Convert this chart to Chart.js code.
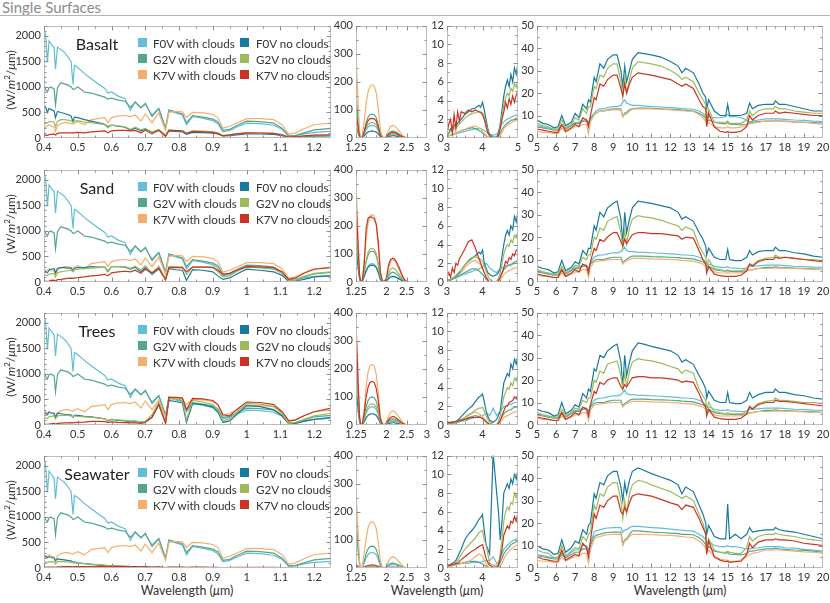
<!DOCTYPE html>
<html><head><meta charset="utf-8">
<script src="https://cdn.jsdelivr.net/npm/chart.js@4/dist/chart.umd.min.js"></script>
<style>
body{margin:0;width:830px;height:603px;position:relative;background:#fff;font-family:Lato,"Open Sans",sans-serif;overflow:hidden;color:#333}
.abs{position:absolute;white-space:nowrap}
.ylab{position:absolute;left:10px;transform:translate(-50%,-50%) rotate(-90deg);font-size:12px;white-space:nowrap}
.xlab{position:absolute;top:590px;transform:translate(-50%,-50%);font-size:12.5px;white-space:nowrap}
.name{position:absolute;transform:translate(-50%,-50%);font-size:16px;white-space:nowrap;color:#222}
.sq{position:absolute;width:9px;height:9px}
.lt{position:absolute;font-size:11.6px;transform:translateY(-50%);white-space:nowrap}
sup{font-size:8px;vertical-align:5px;line-height:0}
</style></head><body>
<div class="abs" style="left:2px;top:-2px;font-size:15px;color:#8c8c8c">Single Surfaces</div>
<div class="abs" style="left:0;top:15px;width:830px;height:1px;background:#b4b4b4"></div>
<div class="xlab" style="left:187px">Wavelength (<i>μ</i>m)</div>
<div class="xlab" style="left:437px">Wavelength (<i>μ</i>m)</div>
<div class="xlab" style="left:680px">Wavelength (<i>μ</i>m)</div>
<script>
// ---------- x grids ----------
const xVis = [0.400,0.405,0.410,0.415,0.420,0.430,0.434,0.440,0.450,0.460,0.470,0.480,0.486,0.490,0.500,0.520,0.540,0.560,0.580,0.589,0.600,0.620,0.640,0.656,0.670,0.687,0.700,0.720,0.740,0.760,0.770,0.790,0.810,0.822,0.840,0.870,0.900,0.915,0.930,0.950,0.970,1.000,1.040,1.080,1.105,1.125,1.145,1.170,1.200,1.250];
const xNir = [1.25,1.28,1.31,1.34,1.37,1.40,1.45,1.50,1.55,1.60,1.65,1.70,1.75,1.80,1.85,1.90,1.95,2.00,2.05,2.10,2.15,2.20,2.25,2.30,2.35,2.40,2.45,2.50,2.60,2.80,3.00];
const xMid = [3.00,3.05,3.10,3.15,3.20,3.25,3.30,3.35,3.40,3.50,3.60,3.70,3.80,3.90,3.95,4.00,4.05,4.10,4.15,4.20,4.30,4.40,4.45,4.50,4.55,4.60,4.65,4.70,4.75,4.80,4.85,4.90,4.95,5.00];
const xFar = [5.0,5.3,5.6,5.9,6.1,6.3,6.5,6.8,7.0,7.2,7.4,7.6,7.7,7.8,8.0,8.1,8.3,8.5,8.7,9.0,9.2,9.4,9.5,9.6,9.7,9.85,10.0,10.3,10.6,11.0,11.5,12.0,12.4,12.6,12.8,13.2,13.5,13.7,13.85,13.9,14.0,14.3,14.6,14.9,15.0,15.1,15.4,15.7,16.0,16.15,16.3,16.6,17.0,17.4,17.5,17.7,18.0,18.5,19.0,19.5,20.0];

// ---------- tick labels ----------
const visTicks = [0.4,0.5,0.6,0.7,0.8,0.9,1,1.1,1.2];
const nirTicks = [1.25,2,2.5,3];
const midTicks = [3,4,5];
const farTicks = [5,6,7,8,9,10,11,12,13,14,15,16,17,18,19,20];
const visYTicks = [0,500,1000,1500,2000];
const nirYTicks = [0,100,200,300,400];
const midYTicks = [0,2,4,6,8,10,12];
const farYTicks = [0,10,20,30,40,50];

const surfaces = ['Basalt','Sand','Trees','Seawater'];
const seriesNames = ['F0V with clouds','G2V with clouds','K7V with clouds','F0V no clouds','G2V no clouds','K7V no clouds'];

// ---------- 0.4-1.25 um ----------
const visF0Vcl = [2150,2000,1480,1900,1850,1760,1350,1780,1730,1680,1600,1500,1050,1420,1380,1260,1160,1060,970,880,900,820,770,540,710,600,660,450,580,200,540,490,450,260,420,390,340,280,120,150,210,290,280,250,170,30,40,80,110,130];
const visG2Vcl = [1050,950,900,980,1000,960,650,990,1080,1060,1040,1000,950,960,1000,900,880,840,800,760,780,740,720,600,700,590,680,420,570,180,550,510,470,300,440,410,370,320,150,170,240,330,320,290,190,40,50,100,160,190];
const visK7Vcl = [250,200,240,260,240,210,130,240,280,300,300,280,270,290,320,260,360,380,400,300,400,430,440,420,450,330,470,300,490,150,500,520,510,400,500,490,460,400,190,230,290,380,380,360,260,70,100,180,260,290];
const basaltVisF0V = [650,600,500,580,560,530,400,520,500,480,460,430,320,410,400,360,330,300,270,220,250,230,210,150,190,140,170,110,150,50,140,130,120,70,110,105,95,80,40,45,60,80,78,72,45,10,15,25,35,40];
const basaltVisG2V = [330,300,300,320,320,310,220,330,360,360,350,340,300,330,340,310,300,280,260,200,250,240,220,170,210,160,190,120,170,60,160,150,140,90,140,135,120,95,50,60,80,100,98,92,60,15,20,35,45,50];
const basaltVisK7V = [60,50,50,65,70,80,60,90,100,100,100,100,95,105,110,100,120,130,140,100,140,150,150,140,150,100,150,80,150,30,150,145,140,90,130,120,110,90,40,60,80,100,98,92,60,20,25,40,55,60];
const sandVisF0V = [230,200,180,230,250,260,180,270,280,280,270,270,220,270,280,280,300,290,290,200,300,300,290,250,290,200,280,150,260,50,260,240,230,30,240,230,200,120,50,80,150,250,230,200,130,10,20,50,100,120];
const sandVisG2V = [150,130,130,150,160,170,100,180,200,210,220,230,200,240,250,260,270,280,290,220,300,300,300,270,310,230,320,180,310,60,300,300,290,150,290,290,280,200,100,120,200,300,280,260,180,30,50,110,170,200];
const sandVisK7V = [20,15,15,20,30,35,20,45,50,60,70,75,70,80,85,100,120,130,150,120,180,200,210,200,230,170,250,180,270,40,280,280,280,200,290,290,290,230,150,170,230,300,295,280,200,50,80,170,250,280];
const treesVisF0V = [270,240,200,250,240,230,150,230,220,210,200,200,150,190,190,170,160,140,120,80,110,90,80,60,70,50,60,150,400,50,480,460,430,50,420,400,350,250,50,80,200,380,360,300,180,20,30,70,110,150];
const treesVisG2V = [150,130,130,160,170,180,120,180,190,190,190,180,160,180,170,160,150,140,120,90,110,100,90,80,80,60,70,200,450,60,520,510,490,100,480,450,400,300,80,120,250,420,410,360,220,30,50,110,180,230];
const treesVisK7V = [20,15,15,20,25,30,20,30,35,40,40,45,40,45,50,55,70,70,65,50,60,50,45,40,40,30,50,150,400,30,540,540,530,300,520,510,480,400,200,180,300,450,440,400,260,80,100,180,260,330];
const seaVisF0V = [250,230,200,220,210,190,140,180,170,160,150,140,110,120,100,85,70,60,45,35,35,30,25,18,20,15,15,10,12,5,10,9,8,5,7,6,5,4,2,3,4,5,5,4,3,1,1,2,3,3];
const seaVisG2V = [130,115,110,120,125,120,80,125,130,125,120,110,100,105,95,85,75,65,55,45,45,38,32,25,26,20,20,14,16,7,14,13,12,8,10,9,8,6,3,4,6,8,7,7,4,1,2,3,4,5];
const seaVisK7V = [20,18,18,20,20,20,15,22,24,25,25,25,24,25,26,26,28,30,30,25,30,30,30,28,28,22,25,18,22,8,20,20,18,12,18,16,15,12,5,8,11,14,14,13,9,3,4,7,9,10];

// ---------- 1.25-3 um ----------
const basaltNirF0Vcl = [130,90,45,10,0,0,14,29,40,44,45,44,38,25,7,1,0,2,7,11,12,11,10,7,5,2,1,0,0,0,0];
const basaltNirG2Vcl = [150,105,52,12,0,0,25,55,75,83,85,83,72,47,13,2,1,4,15,22,25,24,20,15,10,5,2,1,0,0,0];
const basaltNirK7Vcl = [290,200,100,20,0,0,55,125,165,185,190,185,160,105,30,4,2,7,27,40,45,43,36,27,18,9,4,1,0,0,0];
const basaltNirF0V = [40,28,14,3,0,0,8,16,22,24,25,24,21,14,4,1,0,1,5,7,8,8,6,5,3,2,1,0,0,0,0];
const basaltNirG2V = [50,35,18,4,0,0,17,36,48,54,55,53,47,30,8,1,0,2,9,13,15,14,12,9,6,3,1,0,0,0,0];
const basaltNirK7V = [85,60,30,7,0,0,21,45,62,69,70,68,60,38,10,1,0,3,12,18,20,19,16,12,8,4,2,0,0,0,0];
const sandNirF0Vcl = [130,90,45,10,0,0,20,42,57,64,65,63,55,36,10,1,0,3,12,18,20,19,16,12,8,4,2,0,0,0,0];
const sandNirG2Vcl = [200,140,70,15,0,0,33,72,97,108,110,107,94,60,17,2,1,5,21,31,35,33,28,21,14,7,3,1,0,0,0];
const sandNirK7Vcl = [360,250,125,25,0,0,70,155,210,235,240,235,205,130,36,5,2,12,48,72,80,76,64,48,32,16,6,2,0,0,0];
const sandNirF0V = [120,85,42,10,0,0,18,39,53,59,60,58,51,33,9,1,0,3,12,18,20,19,16,12,8,4,2,0,0,0,0];
const sandNirG2V = [200,140,70,15,0,0,36,78,106,118,120,116,102,66,18,2,1,7,30,45,50,48,40,30,20,10,4,1,0,0,0];
const sandNirK7V = [280,200,100,20,0,0,60,190,228,232,230,225,205,140,35,4,2,13,60,80,85,82,70,55,38,20,8,2,0,0,0];
const treesNirF0Vcl = [160,112,56,12,0,0,16,42,57,64,65,63,55,35,9,1,0,2,8,13,14,13,11,8,6,3,1,0,0,0,0];
const treesNirG2Vcl = [250,175,88,18,0,0,25,65,88,98,100,97,84,54,14,2,1,3,13,20,22,21,18,13,9,4,2,0,0,0,0];
const treesNirK7Vcl = [380,265,130,25,0,0,50,140,190,212,215,210,180,115,30,4,2,7,30,45,50,48,40,30,20,10,4,1,0,0,0];
const treesNirF0V = [130,90,45,10,0,0,10,26,35,39,40,39,34,22,6,1,0,1,5,7,8,8,6,5,3,2,1,0,0,0,0];
const treesNirG2V = [230,160,80,17,0,0,19,49,66,74,75,73,63,41,11,1,0,3,11,16,18,17,14,11,7,4,1,0,0,0,0];
const treesNirK7V = [340,238,119,24,0,0,39,101,136,152,155,151,130,84,22,3,1,5,18,27,30,29,24,18,12,6,2,1,0,0,0];
const seaNirF0Vcl = [130,91,46,10,0,0,17,36,48,54,55,53,47,30,8,1,0,2,8,12,13,12,10,8,5,3,1,0,0,0,0];
const seaNirG2Vcl = [180,126,63,13,0,0,23,51,69,76,78,76,66,43,12,2,1,3,11,16,18,17,14,11,7,4,1,0,0,0,0];
const seaNirK7Vcl = [270,190,95,19,0,0,50,107,145,162,165,160,140,90,25,3,1,6,24,36,40,38,32,24,16,8,3,1,0,0,0];
const seaNirF0V = [3,2,1,0,0,0,1,2,3,3,3,3,3,2,1,0,0,0,0,1,1,1,1,0,0,0,0,0,0,0,0];
const seaNirG2V = [5,3,2,0,0,0,2,3,4,5,5,5,4,3,1,0,0,0,1,1,1,1,1,1,0,0,0,0,0,0,0];
const seaNirK7V = [12,8,4,1,0,0,3,7,9,10,10,10,9,6,2,0,0,0,2,3,3,3,2,2,1,1,0,0,0,0,0];

// ---------- 3-5 um ----------
const basaltMidF0Vcl = [0.1,0.2,0.3,0.3,0.4,0.4,0.5,0.6,0.6,0.7,0.8,0.9,1.0,1.0,1.0,0.9,0.8,0.7,0.5,0.4,0.3,0.4,0.7,1.2,1.5,1.7,1.9,2.0,2.1,2.2,2.3,2.4,2.4,2.6];
const basaltMidG2Vcl = [0.1,0.2,0.3,0.4,0.5,0.5,0.6,0.7,0.8,0.9,1.0,1.1,1.0,0.8,0.7,0.5,0.4,0.2,0.1,0.0,0.0,0.0,0.2,0.5,0.9,1.2,1.4,1.6,1.7,1.9,1.9,2.0,2.1,2.2];
const basaltMidK7Vcl = [0.1,0.2,0.3,0.4,0.5,0.5,0.6,0.7,0.8,0.9,1.1,1.2,1.3,1.1,1.0,0.7,0.5,0.3,0.1,0.0,0.0,0.0,0.1,0.3,0.6,1.0,1.2,1.4,1.5,1.6,1.7,1.8,1.9,2.0];
const basaltMidF0V = [0.3,0.5,1.0,0.8,1.4,1.2,1.6,1.8,2.0,2.5,2.8,3.1,3.2,3.5,3.3,3.8,3.0,2.0,1.0,0.4,0.1,0.1,0.5,1.5,3.0,4.5,5.5,6.2,5.5,6.8,6.0,7.5,6.8,8.0];
const basaltMidG2V = [0.2,0.4,0.8,0.7,1.1,1.0,1.3,1.5,1.7,2.1,2.4,2.6,2.7,2.8,2.8,2.7,2.3,1.5,0.8,0.3,0.05,0.05,0.4,1.2,2.4,3.5,4.3,4.8,4.5,5.3,5.0,5.8,5.4,6.3];
const basaltMidK7V = [0.5,1.5,2.0,0.5,2.5,1.0,2.8,1.8,2.8,2.6,3.0,2.8,3.0,2.8,2.7,2.5,2.0,1.2,0.6,0.2,0.0,0.0,0.3,1.0,2.0,2.8,3.8,3.2,4.2,3.6,4.5,3.8,4.6,5.0];
const sandMidF0Vcl = [0.1,0.1,0.2,0.3,0.4,0.4,0.5,0.6,0.7,0.8,1.0,1.1,1.3,1.4,1.5,1.6,1.8,2.0,1.8,1.5,1.2,1.0,1.2,1.4,1.5,1.6,1.7,1.8,1.8,1.9,1.9,2.0,2.0,2.0];
const sandMidG2Vcl = [0.1,0.1,0.2,0.3,0.4,0.5,0.6,0.7,0.8,1.0,1.2,1.4,1.4,1.2,1.0,0.8,0.6,0.3,0.1,0.0,0.0,0.0,0.2,0.5,0.9,1.3,1.5,1.7,1.8,1.8,2.0,2.1,2.2,2.3];
const sandMidK7Vcl = [0.1,0.2,0.3,0.4,0.5,0.6,0.7,0.9,1.0,1.5,1.9,2.2,2.3,2.0,1.8,1.5,1.0,0.6,0.3,0.0,0.0,0.0,0.1,0.2,0.5,0.8,1.0,1.1,1.2,1.3,1.4,1.5,1.5,1.6];
const sandMidF0V = [0.1,0.2,0.3,0.4,0.5,0.6,0.8,1.0,1.3,1.8,2.2,2.5,2.8,3.2,3.0,3.4,2.0,1.5,1.0,0.8,0.6,0.8,1.0,1.5,2.8,4.0,5.0,5.5,5.0,6.0,5.6,7.0,6.4,7.5];
const sandMidG2V = [0.1,0.2,0.3,0.4,0.5,0.7,0.9,1.1,1.3,1.8,2.3,2.6,2.7,2.5,2.4,2.2,1.7,1.2,0.7,0.3,0.05,0.05,0.4,1.0,2.0,3.0,3.6,4.0,3.8,4.5,4.2,5.0,4.7,5.5];
const sandMidK7V = [0.5,1.0,0.5,1.5,1.0,2.0,1.8,2.5,2.8,3.5,4.3,4.5,3.6,2.5,2.0,1.5,1.0,0.5,0.2,0.0,0.0,0.0,0.2,0.5,1.0,1.5,2.2,2.0,2.6,2.4,3.0,2.8,3.4,3.5];
const treesMidF0Vcl = [0.1,0.1,0.1,0.2,0.2,0.2,0.3,0.3,0.4,0.4,0.6,0.7,0.8,0.9,1.0,1.0,1.1,1.2,1.2,1.0,1.8,1.0,1.2,1.5,1.7,2.0,2.0,2.1,2.2,2.2,2.3,2.4,2.4,2.5];
const treesMidG2Vcl = [0.1,0.1,0.1,0.2,0.2,0.3,0.3,0.4,0.5,0.6,0.8,0.9,1.0,0.9,0.8,0.7,0.5,0.3,0.1,0.0,0.0,0.0,0.2,0.5,0.9,1.2,1.4,1.5,1.6,1.6,1.8,1.9,1.9,2.0];
const treesMidK7Vcl = [0.1,0.1,0.2,0.2,0.3,0.3,0.4,0.5,0.5,0.7,1.0,1.2,1.4,1.2,1.1,0.9,0.6,0.3,0.1,0.0,0.0,0.0,0.1,0.3,0.5,0.8,0.9,1.0,1.1,1.2,1.3,1.4,1.4,1.5];
const treesMidF0V = [0.2,0.2,0.3,0.3,0.3,0.4,0.5,0.7,0.9,1.3,1.7,2.0,2.5,3.0,3.1,3.3,2.5,1.5,0.9,0.5,0.3,0.6,1.0,1.5,3.0,4.5,5.0,5.5,5.2,6.5,6.0,7.0,6.5,7.5];
const treesMidG2V = [0.1,0.1,0.2,0.2,0.3,0.3,0.4,0.5,0.6,0.8,1.1,1.3,1.6,1.8,1.8,1.9,1.5,1.0,0.6,0.3,0.05,0.05,0.4,1.0,2.0,3.0,3.5,4.0,3.8,4.5,4.2,5.0,4.7,5.5];
const treesMidK7V = [0.2,0.3,0.2,0.3,0.3,0.4,0.4,0.5,0.5,0.6,0.7,0.8,0.8,0.8,0.8,0.7,0.6,0.4,0.2,0.1,0.0,0.0,0.2,0.5,1.0,1.5,2.0,2.0,2.4,2.5,2.6,3.0,2.8,3.3];
const seaMidF0Vcl = [0.1,0.2,0.2,0.3,0.3,0.4,0.4,0.4,0.5,0.5,0.5,0.6,0.6,0.6,0.6,0.7,0.7,0.8,0.8,0.8,1.2,0.5,0.6,1.0,1.5,2.0,2.2,2.4,2.6,2.8,2.9,3.0,3.1,3.2];
const seaMidG2Vcl = [0.1,0.2,0.2,0.3,0.3,0.4,0.4,0.5,0.5,0.6,0.7,0.7,0.7,0.6,0.5,0.4,0.3,0.2,0.1,0.0,0.0,0.0,0.2,0.6,1.0,1.5,1.8,2.0,2.2,2.5,2.6,2.7,2.8,3.0];
const seaMidK7Vcl = [0.1,0.1,0.2,0.2,0.3,0.3,0.4,0.4,0.5,0.5,0.7,0.9,1.2,1.5,1.4,1.2,0.8,0.5,0.2,0.0,0.0,0.0,0.1,0.2,0.5,1.0,1.3,1.6,1.8,2.0,2.1,2.3,2.4,2.5];
const seaMidF0V = [0.2,0.3,0.4,0.5,0.6,0.8,1.2,1.6,2.0,3.0,3.6,4.0,4.5,5.2,5.4,5.7,4.0,2.5,2.0,1.5,12.2,8.0,6.0,3.0,5.0,8.0,8.5,9.0,8.5,9.5,9.0,10.0,9.5,10.5];
const seaMidG2V = [0.1,0.2,0.3,0.3,0.4,0.6,0.8,1.1,1.4,2.0,2.4,2.8,3.2,3.8,3.9,4.0,3.0,2.5,1.5,0.5,0.3,0.3,0.5,1.5,3.0,5.0,6.0,6.5,6.2,7.0,6.8,8.0,7.5,8.5];
const seaMidK7V = [0.2,0.3,0.3,0.4,0.4,0.5,0.5,0.7,0.9,1.2,1.5,1.8,2.0,2.3,2.4,2.5,1.8,1.0,0.6,0.3,0.1,0.1,0.3,1.0,2.0,3.5,4.0,4.5,4.2,5.0,4.8,5.5,5.0,6.0];

// ---------- 5-20 um ----------
const basaltFarF0Vcl = [5.5,5,4.5,4,4,6,4.5,6,7,7,8,8,7,9,11,12,13,13,13.5,14,14,14.5,16,17,15.5,15,14.5,14.5,14.3,14,13.8,13.5,13.3,13,13,12.8,12,11,10,9,9.5,9,9,9.5,10.5,9.5,9.5,9,8,7,7.5,8,8.5,8.5,8.5,8.5,8.3,8,7.8,7.5,7.3];
const basaltFarG2Vcl = [5,4.5,4,3.5,3.5,5.5,4,5.5,6.5,6.5,7.5,7.5,6,8.5,10.5,11,12,12,12.5,13,13,13,9.5,11,11.5,12.5,13,13.3,13.3,13.2,13,12.8,12.6,12.4,12.3,12,11,10,9,7,8,7,6.5,6.3,7,6.2,6,5.8,6,7,7,7.3,7.5,7.5,7.8,7.5,7.5,7.2,7,6.8,6.6];
const basaltFarK7Vcl = [3,2.5,2.5,2,2,4.5,2.5,4,5,5,6,6,2,7,10.5,11,12,12,12.3,12.5,12.6,12.5,9.5,10.5,10.5,12,12.8,13,13,13,12.8,12.5,12.3,12.2,12,11.8,10.5,9,7.5,6,7,5,4.5,4.5,5,4.5,4.5,4.8,5.5,6.5,6.5,7,7.5,7.5,7.7,7.5,7.4,7.2,7,6.5,6.2];
const basaltFarF0V = [8,6.5,6,4.5,5,10,5.5,7,11,9,15,13,17,16,27,25,33,31,35,37,37,30,23,32,25,30,35,38,37.5,37,36,34,32,29,31,29,24,20,18,13,17,12,10,10,15,10,10,10,11,15.5,13,14.5,15,15,16.5,15,15,14,13,12,12];
const basaltFarG2V = [6.5,5.5,5,3.5,4,8,4.5,6,9,8,13,11,14,14,23,22,28,27,31,33,33,25,18,27,20,26,31,34,33.5,33,32,30,28,26,27,25,20,17,15,8,13,7,7,7,7.5,6.5,6.5,6.5,8,12,10,12,13,13,14,13,13,12,11.5,11,11];
const basaltFarK7V = [4,3.5,3,2.5,2.5,6,3,4.5,6,5,9,8,5,10,18,17,24,23,26,28,28,22,19,24,20,24,27,29,28.5,28,27,26,24,23,24,22,17,14,13,5,11,5,3,2.5,2.8,2.5,2.5,3,5,10,8,10,11,11,12,11,11.5,11,10.5,10,10];
const sandFarF0Vcl = [5,4.5,4,3.5,3.5,5.5,4,5.5,6.5,6.5,7.5,7.5,6,8.5,11,11.5,12,12,12.5,13,13,13.5,14.5,15.5,14,13.5,13.5,13.3,13.2,13,12.8,12.5,12.3,12,12,11.8,11,10,9,7.5,8,7,6.5,6.5,6.8,6.3,6.2,6,6.2,7,7,7.2,7.5,7.5,7.5,7.5,7.3,7,6.8,6.6,6.5];
const sandFarG2Vcl = [4.5,4,3.5,3,3,5,3.5,5,6,6,7,7,5.5,8,9.5,10,10,10,10.5,11,11,11,8.5,9.5,10,11,11.5,11.5,11.5,11.3,11.2,11,10.8,10.6,10.5,10.3,9.5,9,8,6.5,7,5.5,5,4.8,5,4.7,4.6,4.6,5,5.5,5.5,6,6.5,6.5,6.7,6.5,6.4,6.2,6,5.8,5.6];
const sandFarK7Vcl = [3,2.5,2.5,2,2,4,2.5,3.5,4.5,4.5,5.5,5.5,2,6.5,9,9,9.5,9.5,9.8,10,10,10,8,9,9.5,10,10.5,10.5,10.5,10.3,10.2,10,9.8,9.6,9.5,9.3,8.5,8,7,5.5,6,4.5,4,4,4.2,4,4,4.2,4.8,5.5,5.5,6,6,6.2,6.3,6.2,6.2,6,5.8,5.6,5.5];
const sandFarF0V = [7,6,5.5,4,4.5,9.5,5,6.5,9,8,14,12,15,15,25,23,31,29,33,35,36,28,17,31,22,28,33,36,35.5,35,34,33,31,28,29,27,22,19,16,12,15,11,10,10,14.5,10,9.5,9.5,11,14,12,13.5,14,14,15.5,14,14,13,12.5,11.5,11];
const sandFarG2V = [5.5,4.5,4,3,3.5,7,4,5.5,7.5,7,11,10,12,12,20,19,24,23,27,28.5,29,22,15,23,17,24,28,29.5,29,28.5,27.5,26,25,23,24.5,23,16,13,11,7,10,6,5.5,5,5.5,5,5,5,6,8,7.5,9.5,10.5,11,12,11,11,10.5,10,10,9.5];
const sandFarK7V = [3.5,3,2.5,2,2,5.5,2.5,4,5.5,4.5,8,7,4,9,15,14,19,18,20,22,22,18,16,19,17,19,21,22,22,21.5,21.5,21,20.5,19,20,19.5,14,10,8,4,7,3.5,2.8,2.5,2.5,2.5,2.5,3,5,8,7,9,10,10,11,10.5,11,10.5,10,9.5,9];
const treesFarF0Vcl = [5,4.5,4,3.5,3.5,5.5,4,5.5,6.5,6.5,7.5,7.5,6,8.5,11,11.5,12,12,12.5,13,13,13.5,14.5,15.5,14,13.5,13.5,13.3,13.2,13,12.8,12.5,12.3,12,12,11.8,11,10,9,7.5,8,7,6.5,6.5,6.8,6.3,6.2,6,6.2,7,7,7.2,7.5,7.5,7.5,7.5,7.3,7,6.8,6.6,6.5];
const treesFarG2Vcl = [4.5,4,3.5,3,3,5,3.5,5,6,6,7,7,5.5,8,9.5,10,10,10,10.5,11,11,11,8.5,9.5,10,11,11.5,11.5,11.5,11.3,11.2,11,10.8,10.6,10.5,10.3,9.5,9,8,6.5,7,5.5,5,4.8,5,4.7,4.6,4.6,5,5.5,5.5,6,6.5,6.5,6.7,6.5,6.4,6.2,6,5.8,5.6];
const treesFarK7Vcl = [3,2.5,2.5,2,2,4,2.5,3.5,4.5,4.5,5.5,5.5,2,6.5,9,9,9.5,9.5,9.8,10,10,10,8,9,9.5,10,10.5,10.5,10.5,10.3,10.2,10,9.8,9.6,9.5,9.3,8.5,8,7,5.5,6,4.5,4,4,4.2,4,4,4.2,4.8,5.5,5.5,6,6,6.2,6.3,6.2,6.2,6,5.8,5.6,5.5];
const treesFarF0V = [7,6,5.5,4,4.5,10,5,6.5,9,8,14,12,16,15,25,24,31,30,33,35,36,28,17,31,22,28,33,36.5,36,35,34,33,31,28,29,27,22,19,16,12,15,11,10,10,14.5,10,9.5,9.5,11,14.5,12,13.5,14.5,14.5,16,14.5,14.5,13.5,13,12,11.5];
const treesFarG2V = [5.5,4.5,4,3,3.5,7,4,5.5,7.5,7,11,10,12,12,20,19,24,23,27,28,28.5,22,16,23,17,24,28,29.5,29,28.5,27.5,26,25,23,24.5,23,16,13,11,7,10,6,5.5,5,5.5,5,5,5,6,8.5,7.5,9.5,10.5,11,12,11,11,10.5,10,10,9.5];
const treesFarK7V = [3.5,3,2.5,2,2,5.5,2.5,4,5.5,4.5,8,7,4,9,15,14,19,18,20,21,21,17,16,18,17,19,21,21.5,21.5,21,21,20.5,20,19,19.5,19,14,10,8,4,7,3.5,2.8,2.5,2.5,2.5,2.5,3,5,8,7,9,10,10,11,10.5,10.5,10,9.5,9,8.5];
const seaFarF0Vcl = [6,5.5,5,4.5,4.5,7,5,7,8,8,10,10,8,11,16,16.5,17,17.5,17.8,18,18,18,16,17,17,18,18.5,18.5,18.3,18,17.7,17.3,17,16.8,16.6,16.4,15,14,12.5,11,12,10,9.5,9.5,10,9.5,9.5,9,8.5,8.5,8.8,9,9.5,9.5,9.5,9.5,9,8.8,8.3,8,7.5];
const seaFarG2Vcl = [5.5,5,4.5,4,4,6,4.5,6,7,7,8.5,8.5,6.5,10,14,14.5,15,15.5,15.8,16,16,16,11,12.5,13,15,16.5,16.5,16.3,16,15.8,15.5,15.3,15,15,14.8,13.5,12,10.5,8,9.5,7.5,7,6.5,7,6.2,6,5.8,6.5,7.5,7.5,8,8.5,8.5,8.8,8.5,8.3,8,7.8,7.5,7];
const seaFarK7Vcl = [3.5,3,3,2.5,2.5,5,3,4.5,5,5,6.5,6.5,2,8,13,13.5,14,14.5,14.8,15,15,15,10,12,12.5,14,15,15,15,14.8,14.6,14.5,14.2,14,13.8,13.5,12,10.5,9,7,8,5,4,3.5,3.5,3,3,3.5,5,6,6.5,7,8,8,8,8,7.8,7.5,7.2,7,6.5];
const seaFarF0V = [10,8.5,8,6,6.5,12.5,7,9,12,11,17,15,19,20,33,31,38,37,41,43,43,36,30,38,33,39,43,44.5,43.5,42,40.5,39,37,33,36,34,28,24,20,15,19,14,13,13,28.5,13,15,13,15,18,16,16.5,17,17,18,17,16.5,16,15,14,13];
const seaFarG2V = [8,7,6.5,4.5,5,10,5.5,7.5,9,8.5,14,12,15,16,28,26,33,32,36,38,38,30,22,30,24,33,37,39,38.5,37,35.5,34,32,31,32,30,24,20,15,9,13,8,7,7,7.5,7,6.5,6.5,9,14,12,14,15,15,15.5,15,14.5,14,13,12.5,12];
const seaFarK7V = [5,4,3.5,3,3,8,3.5,5,6,5.5,11,9,5,12,24,22,28,27,30,32,32,25,24,27,25,29,32,33,32.5,32,30.5,29,28,26,28,27,22,18,15,6,12,5,3.5,2.8,3,2.5,2.8,3,6,11,9,11.5,12.5,12.5,13,12.5,12.5,12,11,10.5,10];

// ---------- assembly ----------
const COLORS = ['#63bcd9','#56a68d','#f5ae6d','#177a9e','#9dbb5c','#cc3322'];
const ROW_TOP = [24,168,311,454];
const PH = 114;
const PANELS = [
  {L:44, W:287, yW:40, xmin:0.4, xmax:1.25, xt:visTicks, xminStep:0.05, ymax:2200, yt:visYTicks, yminStep:100, xs:xVis},
  {L:356, W:71, yW:28, xmin:1.25, xmax:3, xt:nirTicks, xminStep:0.25, ymax:400, yt:nirYTicks, yminStep:50, xs:xNir},
  {L:447, W:71, yW:26, xmin:3, xmax:5, xt:midTicks, xminStep:0.25, ymax:12, yt:midYTicks, yminStep:1, xs:xMid},
  {L:537, W:286, yW:26, xmin:5, xmax:20, xt:farTicks, xminStep:0.5, ymax:50, yt:farYTicks, yminStep:5, xs:xFar}
];
const DATA = [
  [[visF0Vcl,visG2Vcl,visK7Vcl,basaltVisF0V,basaltVisG2V,basaltVisK7V],
   [basaltNirF0Vcl,basaltNirG2Vcl,basaltNirK7Vcl,basaltNirF0V,basaltNirG2V,basaltNirK7V],
   [basaltMidF0Vcl,basaltMidG2Vcl,basaltMidK7Vcl,basaltMidF0V,basaltMidG2V,basaltMidK7V],
   [basaltFarF0Vcl,basaltFarG2Vcl,basaltFarK7Vcl,basaltFarF0V,basaltFarG2V,basaltFarK7V]],
  [[visF0Vcl,visG2Vcl,visK7Vcl,sandVisF0V,sandVisG2V,sandVisK7V],
   [sandNirF0Vcl,sandNirG2Vcl,sandNirK7Vcl,sandNirF0V,sandNirG2V,sandNirK7V],
   [sandMidF0Vcl,sandMidG2Vcl,sandMidK7Vcl,sandMidF0V,sandMidG2V,sandMidK7V],
   [sandFarF0Vcl,sandFarG2Vcl,sandFarK7Vcl,sandFarF0V,sandFarG2V,sandFarK7V]],
  [[visF0Vcl,visG2Vcl,visK7Vcl,treesVisF0V,treesVisG2V,treesVisK7V],
   [treesNirF0Vcl,treesNirG2Vcl,treesNirK7Vcl,treesNirF0V,treesNirG2V,treesNirK7V],
   [treesMidF0Vcl,treesMidG2Vcl,treesMidK7Vcl,treesMidF0V,treesMidG2V,treesMidK7V],
   [treesFarF0Vcl,treesFarG2Vcl,treesFarK7Vcl,treesFarF0V,treesFarG2V,treesFarK7V]],
  [[visF0Vcl,visG2Vcl,visK7Vcl,seaVisF0V,seaVisG2V,seaVisK7V],
   [seaNirF0Vcl,seaNirG2Vcl,seaNirK7Vcl,seaNirF0V,seaNirG2V,seaNirK7V],
   [seaMidF0Vcl,seaMidG2Vcl,seaMidK7Vcl,seaMidF0V,seaMidG2V,seaMidK7V],
   [seaFarF0Vcl,seaFarG2Vcl,seaFarK7Vcl,seaFarF0V,seaFarG2V,seaFarK7V]]
];

function steps(a, b, s){ const out=[]; for(let k=0;;k++){ const v=+(a+k*s).toFixed(6); if(v>b+1e-9) break; out.push(v);} return out; }

const framePlugin = {
  id:'frame',
  afterDatasetsDraw(chart, args, o){
    const {ctx, chartArea:a, scales:{x,y}} = chart;
    ctx.save();
    ctx.lineWidth = 1;
    const L = Math.round(a.left)+0.5, R = Math.round(a.right)-0.5, T = Math.round(a.top)+0.5, B = Math.round(a.bottom)-0.5;
    ctx.strokeStyle = '#bdbdbd';
    ctx.strokeRect(L, T, R-L, B-T);
    ctx.strokeStyle = '#8c8c8c';
    ctx.beginPath();
    const tx = (vals,len)=>vals.forEach(v=>{const p=Math.round(x.getPixelForValue(v))+0.5; if(p<L||p>R) return; ctx.moveTo(p,B); ctx.lineTo(p,B-len); ctx.moveTo(p,T); ctx.lineTo(p,T+len);});
    const ty = (vals,len)=>vals.forEach(v=>{const p=Math.round(y.getPixelForValue(v))+0.5; if(p<T||p>B) return; ctx.moveTo(L,p); ctx.lineTo(L+len,p); ctx.moveTo(R,p); ctx.lineTo(R-len,p);});
    tx(o.xMajor,4); tx(o.xMinor,2); ty(o.yMajor,4); ty(o.yMinor,2);
    ctx.stroke();
    ctx.restore();
  }
};

Chart.defaults.font.family = 'Lato';
Chart.defaults.font.size = 11;
Chart.defaults.color = '#333';

function makePanel(r, c){
  const g = PANELS[c], T = ROW_TOP[r];
  const padT = 8, padR = 12, xH = 22;
  const w = g.yW + g.W + padR, h = padT + PH + xH;
  const cv = document.createElement('canvas');
  cv.width = w; cv.height = h;
  cv.style.cssText = `position:absolute;left:${g.L-g.yW}px;top:${T-padT}px;width:${w}px;height:${h}px`;
  document.body.appendChild(cv);
  const arrs = DATA[r][c];
  const datasets = arrs.map((a,i)=>({
    label: seriesNames[i],
    data: g.xs.map((x,j)=>({x, y: a[j]})),
    borderColor: COLORS[i], backgroundColor: COLORS[i],
    borderWidth: 1.2, pointRadius: 0, fill: false, tension: 0, order: 5-i
  }));
  new Chart(cv, {
    type:'line',
    data:{datasets},
    plugins:[framePlugin],
    options:{
      responsive:false, animation:false, devicePixelRatio:1,
      layout:{padding:{top:padT,right:padR,left:0,bottom:0}},
      plugins:{legend:{display:false}, tooltip:{enabled:false},
        frame:{xMajor:g.xt, xMinor:steps(g.xmin,g.xmax,g.xminStep), yMajor:g.yt, yMinor:steps(0,g.ymax,g.yminStep)}},
      scales:{
        x:{type:'linear', min:g.xmin, max:g.xmax,
           grid:{display:false, drawTicks:false}, border:{display:false},
           ticks:{padding:3, autoSkip:false, maxRotation:0, color:'#333', callback:v=>String(v)},
           afterBuildTicks:s=>{ s.ticks = g.xt.map(v=>({value:v})); },
           afterFit:s=>{ s.height = xH; }},
        y:{type:'linear', min:0, max:g.ymax,
           grid:{display:false, drawTicks:false}, border:{display:false},
           ticks:{padding:3, autoSkip:false, color:'#333', callback:v=>String(v)},
           afterBuildTicks:s=>{ s.ticks = g.yt.map(v=>({value:v})); },
           afterFit:s=>{ s.width = g.yW; }}
      }
    }
  });
}

for (let r=0;r<4;r++){
  for (let c=0;c<4;c++) makePanel(r,c);
  const T = ROW_TOP[r];
  const yl = document.createElement('div');
  yl.className='ylab'; yl.style.top=(T+56)+'px';
  yl.innerHTML='(W/<i>m</i><sup>2</sup>/<i>μ</i>m)';
  document.body.appendChild(yl);
  const nm = document.createElement('div');
  nm.className='name'; nm.style.left='97px'; nm.style.top=(T+19)+'px';
  nm.textContent = surfaces[r];
  document.body.appendChild(nm);
  for (let i=0;i<6;i++){
    const col = Math.floor(i/3), row = i%3;
    const sq = document.createElement('div');
    sq.className='sq'; sq.style.background=COLORS[i];
    sq.style.left=(col?240:138)+'px'; sq.style.top=(T+14+16.2*row)+'px';
    document.body.appendChild(sq);
    const lt = document.createElement('div');
    lt.className='lt'; lt.style.left=(col?256:153)+'px'; lt.style.top=(T+18.7+16.2*row)+'px';
    lt.textContent = seriesNames[i];
    document.body.appendChild(lt);
  }
}
</script>
</body></html>
